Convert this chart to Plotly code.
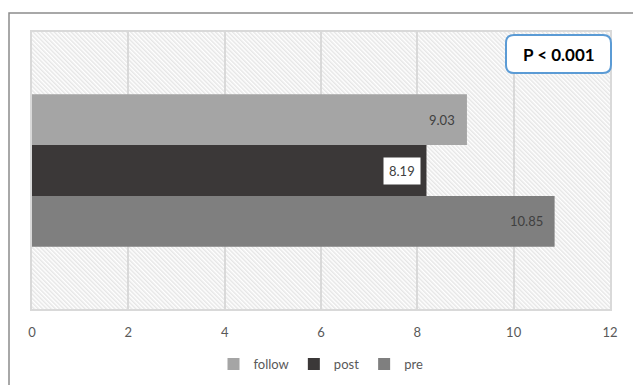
import base64
import plotly.graph_objects as go

# ---- data ----
series = ["pre", "post", "follow"]
values = [10.85, 8.19, 9.03]
positions = [0, 1, 2]
colors = ["#7f7f7f", "#3b3838", "#a5a5a5"]
tick_vals = [0, 2, 4, 6, 8, 10, 12]
p_text = "P < 0.001"

W, H = 633, 385
ML, MR, MT, MB = 32, 23, 32, 76
PW, PH = W - ML - MR, H - MT - MB

FONT = "Lato, 'Open Sans', 'DejaVu Sans', sans-serif"

fig = go.Figure()
for name, v, pos, c in zip(series, values, positions, colors):
    fig.add_trace(go.Bar(
        x=[v], y=[pos], name=name, orientation="h", width=1,
        marker=dict(color=c, line=dict(width=0)),
        hoverinfo="x+name",
    ))

# data labels
for name, v, pos in zip(series, values, positions):
    if name == "post":
        fig.add_annotation(x=v, y=pos, xref="x", yref="y", text=f"{v:.2f}",
                           showarrow=False, xanchor="right", yanchor="middle", xshift=-5,
                           bgcolor="white", borderpad=5,
                           font=dict(family=FONT, size=13, color="#404040"))
    else:
        fig.add_annotation(x=v, y=pos, xref="x", yref="y", text=f"{v:.2f}",
                           showarrow=False, xanchor="right", yanchor="middle", xshift=-10,
                           font=dict(family=FONT, size=13, color="#404040"))

# hatched plot background
svg = (f'<svg xmlns="http://www.w3.org/2000/svg" width="{PW}" height="{PH}" '
       f'viewBox="0 0 {PW} {PH}" preserveAspectRatio="none">'
       '<defs><pattern id="h" width="3" height="3" patternUnits="userSpaceOnUse" '
       'patternTransform="rotate(-45)"><rect width="3" height="3" fill="#ffffff"/>'
       '<rect width="1.5" height="3" fill="#e6e6e6"/></pattern></defs>'
       f'<rect width="{PW}" height="{PH}" fill="url(#h)"/></svg>')
uri = "data:image/svg+xml;base64," + base64.b64encode(svg.encode()).decode()
fig.add_layout_image(source=uri, xref="paper", yref="paper", x=0, y=1,
                     sizex=1, sizey=1, xanchor="left", yanchor="top",
                     sizing="stretch", layer="below")

# outer chart border (left + top)
def px2x(px):
    return (px - ML) / PW

def py2y(py):
    return (H - MB - py) / PH

fig.add_shape(type="path", xref="paper", yref="paper",
              path=f"M {px2x(9)},{py2y(400)} L {px2x(9)},{py2y(13)} L {px2x(650)},{py2y(13)}",
              line=dict(color="#8c8c8c", width=1.5), layer="above")

# rounded P-value box
bx0, bx1, by0, by1, r = 506, 611, 35, 73, 8
rx, ry = r / PW, r / PH
x0, x1, y0, y1 = px2x(bx0), px2x(bx1), py2y(by1), py2y(by0)
path = (f"M {x0+rx},{y1} L {x1-rx},{y1} Q {x1},{y1} {x1},{y1-ry} "
        f"L {x1},{y0+ry} Q {x1},{y0} {x1-rx},{y0} L {x0+rx},{y0} "
        f"Q {x0},{y0} {x0},{y0+ry} L {x0},{y1-ry} Q {x0},{y1} {x0+rx},{y1} Z")
fig.add_shape(type="path", xref="paper", yref="paper", path=path,
              line=dict(color="#5b9bd5", width=2), fillcolor="white", layer="above")
fig.add_annotation(x=(x0 + x1) / 2, y=(y0 + y1) / 2, xref="paper", yref="paper",
                   xanchor="center", yanchor="middle",
                   text=f"<b>{p_text}</b>", showarrow=False,
                   font=dict(family=FONT, size=17, color="#000000"))

fig.update_layout(
    width=W, height=H,
    margin=dict(l=ML, r=MR, t=MT, b=MB, autoexpand=False),
    paper_bgcolor="white", plot_bgcolor="rgba(0,0,0,0)",
    barmode="overlay",
    showlegend=True,
    legend=dict(orientation="h", x=0.5, xanchor="center",
                yref="container", y=(H - 364) / H, yanchor="middle",
                traceorder="reversed", itemwidth=30,
                font=dict(family=FONT, size=13, color="#595959")),
    xaxis=dict(range=[0, 12], tickvals=tick_vals, showgrid=True, gridcolor="#d9d9d9",
               gridwidth=2, zeroline=False, showline=True, mirror=True,
               linecolor="#d9d9d9", linewidth=2, ticks="", ticklabelstandoff=10,
               automargin=False,
               tickfont=dict(family=FONT, size=13, color="#595959"), fixedrange=True),
    yaxis=dict(range=[-1.725, 3.725], showticklabels=False, showgrid=False,
               zeroline=False, showline=True, mirror=True, linecolor="#d9d9d9",
               linewidth=2, fixedrange=True, automargin=False),
    font=dict(family=FONT),
)

fig.write_html("out.html")
